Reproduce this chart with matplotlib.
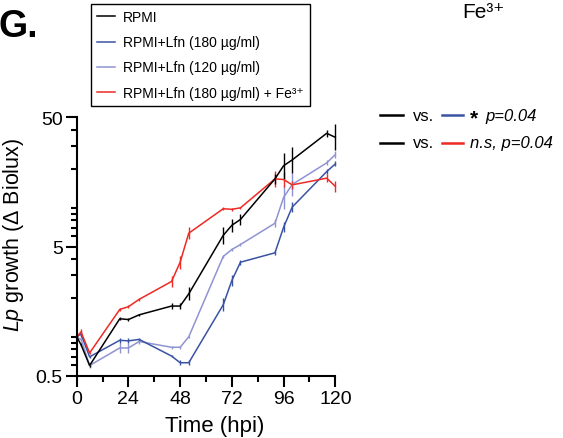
import matplotlib.pyplot as plt
import numpy as np

plt.rcParams['font.family'] = ['Liberation Sans', 'DejaVu Sans']
plt.rcParams['mathtext.fontset'] = 'custom'
plt.rcParams['mathtext.rm'] = 'Liberation Sans'
plt.rcParams['mathtext.it'] = 'Liberation Sans:italic'

# time points (hpi)
hours = [0, 2, 6, 20, 24, 29, 44, 48, 52, 68, 72, 76, 92, 96, 100, 116, 120]

rpmi = [1.0, 0.87, 0.60, 1.38, 1.36, 1.48, 1.73, 1.73, 2.15, 6.1, 7.3, 8.1, 16.7, 21.1, 23.4, 37.6, 35.0]
lfn180 = [1.0, 1.05, 0.70, 0.94, 0.93, 0.955, 0.71, 0.63, 0.63, 1.77, 2.73, 3.78, 4.47, 7.05, 10.1, 19.0, 21.8]
lfn120 = [0.98, 0.96, 0.60, 0.82, 0.82, 0.92, 0.83, 0.83, 1.0, 4.19, 4.74, 5.18, 7.57, 12.0, 15.1, 22.2, 25.7]
lfn180_fe = [1.0, 1.09, 0.75, 1.63, 1.71, 1.95, 2.68, 3.78, 6.34, 9.8, 9.7, 9.96, 16.7, 16.5, 15.0, 16.9, 14.6]

# error half-widths, in log10 units
rpmi_err = [0.01, 0.01, 0.01, 0.01, 0.01, 0.01, 0.02, 0.02, 0.05, 0.065, 0.05, 0.04, 0.04, 0.1, 0.1, 0.025, 0.1]
lfn180_err = [0.01, 0.02, 0.01, 0.02, 0.02, 0.01, 0.01, 0.02, 0.02, 0.05, 0.045, 0.02, 0.015, 0.04, 0.04, 0.02, 0.02]
lfn120_err = [0.01, 0.01, 0.02, 0.04, 0.04, 0.02, 0.01, 0.01, 0.01, 0.01, 0.01, 0.01, 0.03, 0.09, 0.09, 0.02, 0.025]
lfn180_fe_err = [0.01, 0.025, 0.01, 0.01, 0.01, 0.01, 0.04, 0.05, 0.045, 0.01, 0.01, 0.01, 0.06, 0.06, 0.03, 0.03, 0.04]

labels = ['RPMI', 'RPMI+Lfn (180 µg/ml)', 'RPMI+Lfn (120 µg/ml)',
          'RPMI+Lfn (180 µg/ml) + Fe³⁺']
colors = ['black', '#3a52a3', '#8f93d2', '#ed2a24']

fig = plt.figure(figsize=(5.63, 4.39), dpi=100)
ax = fig.add_axes([0.1362, 0.1419, 0.4594, 0.5886])

series = [(lfn120, lfn120_err, 2), (lfn180, lfn180_err, 1),
          (lfn180_fe, lfn180_fe_err, 3), (rpmi, rpmi_err, 0)]
handles = {}
for vals, errs, idx in series:
    v = np.array(vals)
    e = np.array(errs)
    yerr = [v - v / 10 ** e, v * 10 ** e - v]
    h = ax.errorbar(hours, v, yerr=yerr, fmt='-', color=colors[idx], lw=1.1,
                    elinewidth=1.0, capsize=0, clip_on=False)
    handles[idx] = h[0]

ax.set_yscale('log')
ax.set_ylim(0.5, 50)
ax.set_xlim(0, 120)
ax.set_yticks([0.5, 5, 50])
ax.set_yticklabels(['0.5', '5', '50'])
minor = [m * d for d in (0.1, 1, 10) for m in range(1, 10)]
minor = [t for t in minor if 0.5 < t < 50 and t not in (5,)]
ax.set_yticks(minor, minor=True)
ax.set_yticklabels([], minor=True)
ax.set_xticks(range(0, 121, 24))
ax.set_xticks(range(12, 120, 24), minor=True)

for s in ['top', 'right']:
    ax.spines[s].set_visible(False)
for s in ['left', 'bottom']:
    ax.spines[s].set_linewidth(1.5)
ax.tick_params(which='major', length=8, width=1.5, labelsize=14, pad=2)
ax.tick_params(which='minor', length=4.5, width=1.5)

ax.set_xlabel('Time (hpi)', fontsize=16, labelpad=0)
ax.xaxis.set_label_coords(0.535, -0.152)
ax.set_ylabel('$\\mathit{Lp}$ growth (Δ Biolux)', fontsize=15.5)
ax.yaxis.set_label_coords(-0.195, 0.55)

fig.legend([handles[i] for i in range(4)], labels, loc='upper left',
           bbox_to_anchor=(0.1616, 0.9886), fontsize=10, frameon=True,
           fancybox=False, edgecolor='black', framealpha=1,
           handlelength=1.3, handletextpad=0.55, labelspacing=0.8,
           borderpad=0.45, borderaxespad=0)
fig.legends[0].get_frame().set_linewidth(1.0)

fig.text(-0.002, 0.916, 'G.', fontsize=27, fontweight='bold', va='baseline')
fig.text(0.8206, 0.959, 'Fe³⁺', fontsize=15, va='baseline')

# comparison notes
row_y = [0.735, 0.672]
for y, c in zip(row_y, [colors[1], colors[3]]):
    fig.add_artist(plt.Line2D([0.675, 0.716], [y, y], color='black', lw=1.8))
    fig.text(0.733, y, 'vs.', fontsize=12, va='center')
    fig.add_artist(plt.Line2D([0.785, 0.823], [y, y], color=c, lw=1.8))
fig.text(0.835, row_y[0] - 0.006, '*', fontsize=15, va='center', fontweight='bold')
fig.text(0.863, row_y[0], 'p=0.04', fontsize=12, va='center', style='italic')
fig.text(0.835, row_y[1], 'n.s, p=0.04', fontsize=12, va='center', style='italic')

fig.savefig('out.png', dpi=100)
